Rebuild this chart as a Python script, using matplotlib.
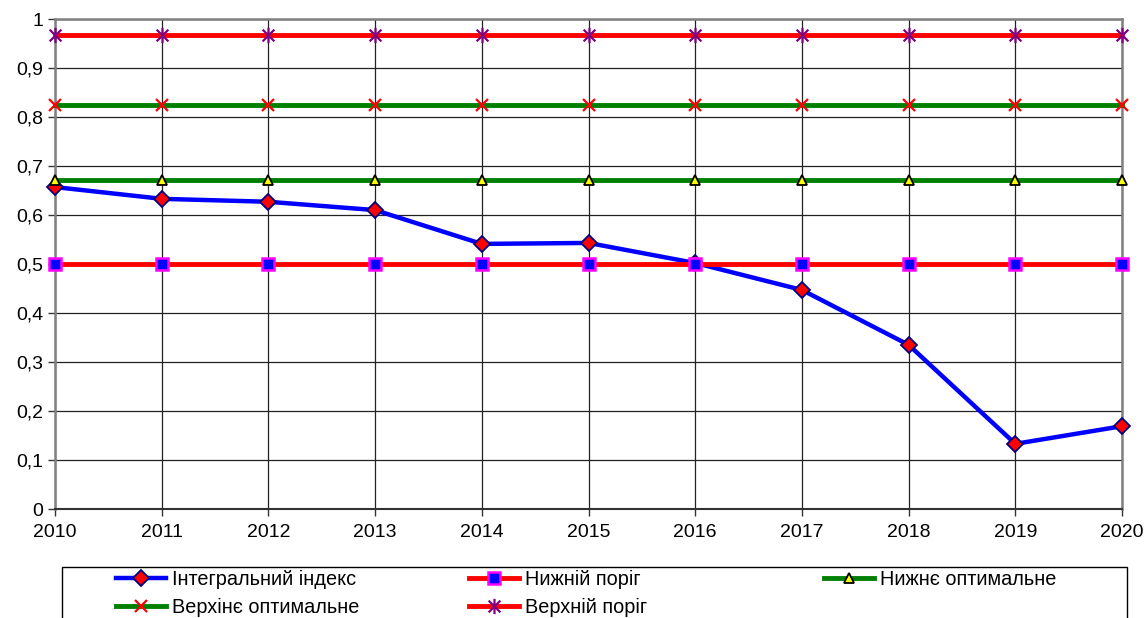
import matplotlib.pyplot as plt
import numpy as np
from matplotlib.path import Path
from matplotlib.patches import Rectangle
from matplotlib.ticker import FuncFormatter

plt.rcParams['font.family'] = ['Liberation Sans', 'DejaVu Sans']

years = np.arange(2010, 2021)
integral = [0.657, 0.633, 0.627, 0.610, 0.541, 0.543, 0.502, 0.447, 0.335, 0.133, 0.169]
lower_thr = [0.5] * 11
lower_opt = [0.672] * 11
upper_opt = [0.825] * 11
upper_thr = [0.967] * 11

# asterisk marker: X plus vertical bar
ast = Path([(-1, -1), (1, 1), (-1, 1), (1, -1), (0, -1.3), (0, 1.3)],
           [Path.MOVETO, Path.LINETO, Path.MOVETO, Path.LINETO, Path.MOVETO, Path.LINETO])

fig = plt.figure(figsize=(11.47, 6.18), dpi=100)
ax = fig.add_axes([55 / 1147, 1 - 509 / 618, (1122 - 55) / 1147, (509 - 19) / 618])

l1, = ax.plot(years, integral, color='#0000FF', lw=3.2, marker='D', ms=8,
              mfc='#FF0000', mec='#000080', mew=1.3, clip_on=False, zorder=3,
              label='Інтегральний індекс')
l2, = ax.plot(years, lower_thr, color='#FF0000', lw=3.5, marker='s', ms=9,
              mfc='#0000FF', mec='#FF00FF', mew=1.8, clip_on=False, zorder=4,
              label='Нижній поріг')
l3, = ax.plot(years, lower_opt, color='#008000', lw=3.5, marker='^', ms=7,
              mfc='#FFFF00', mec='#000000', mew=1.3, clip_on=False, zorder=5,
              label='Нижнє оптимальне')
l4, = ax.plot(years, upper_opt, color='#008000', lw=3.5, marker='x', ms=9,
              mec='#FF0000', mew=1.6, clip_on=False, zorder=6,
              label='Верхінє оптимальне')
l5, = ax.plot(years, upper_thr, color='#FF0000', lw=3.5, marker=ast, ms=11,
              mec='#800080', mew=1.6, clip_on=False, zorder=7,
              label='Верхній поріг')

ax.set_xlim(2010, 2020)
ax.set_ylim(0, 1)
ax.set_xticks(years)
ax.set_yticks(np.arange(0, 1.01, 0.1))
ax.yaxis.set_major_formatter(FuncFormatter(lambda v, p: ('%g' % round(v, 1)).replace('.', ',')))
ax.tick_params(labelsize=14, length=5, width=1, color='#333333')
ax.tick_params(axis='x', pad=6)
ax.grid(True, color='#222222', lw=0.9)
ax.set_axisbelow(True)
for s in ['left', 'top', 'right']:
    ax.spines[s].set_color('#808080')
    ax.spines[s].set_linewidth(1.8)
ax.spines['bottom'].set_color('#333333')
ax.spines['bottom'].set_linewidth(1.5)

# legend frame, runs off the bottom edge
fig.add_artist(Rectangle((62 / 1147, -0.1), (1127 - 62) / 1147, 0.1 + (618 - 567) / 618,
                         transform=fig.transFigure, fill=False, ec='black', lw=1))

columns = [([l1, l4], 112), ([l2, l5], 465), ([l3], 820)]
for handles, x0 in columns:
    fig.legend(handles=handles, loc='upper left', bbox_to_anchor=(x0 / 1147, 1 - 566 / 618),
               frameon=False, fontsize=14.3, handlelength=2.5, handletextpad=0.3,
               borderpad=0.2, borderaxespad=0, labelspacing=0.45)

fig.savefig('out.png', dpi=100)
